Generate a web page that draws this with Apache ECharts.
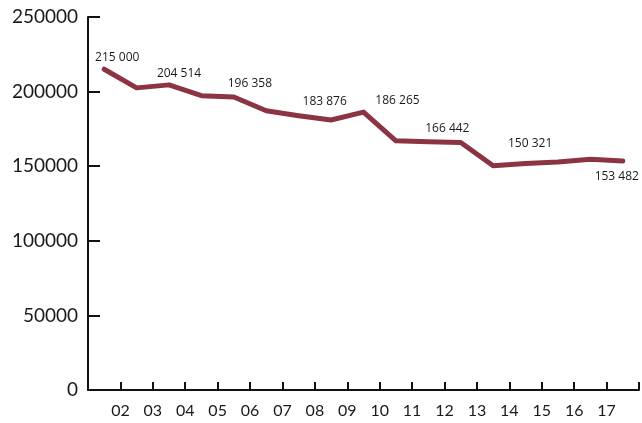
<!DOCTYPE html>
<html>
<head>
<meta charset="utf-8">
<script src="https://cdn.jsdelivr.net/npm/echarts@6/dist/echarts.min.js"></script>
<style>
  html, body { margin: 0; padding: 0; background: #fff; }
  #chart { width: 642px; height: 423px; }
</style>
</head>
<body>
<div id="chart"></div>
<script>
// tick labels on the x axis (one per band boundary, first and last empty)
const xTickLabels = ['', '02', '03', '04', '05', '06', '07', '08', '09', '10', '11', '12', '13', '14', '15', '16', '17', ''];
// one value per band
const values = [215000, 202500, 204514, 197300, 196358, 187200, 183876, 181000, 186265,
                167000, 166442, 165900, 150321, 151800, 152800, 154700, 153482];
// points that carry a value label
const labelled = [0, 2, 4, 6, 8, 10, 12, 16];
const yTicks = [0, 50000, 100000, 150000, 200000, 250000];

window.onload = function () {
    let chart = echarts.init(document.getElementById('chart'));

    // label placement (style, not data)
    let labelOffsets = {
        0: [13, -12], 2: [10, -11], 4: [16, -13], 6: [26, -14],
        8: [34, -12], 10: [19, -13], 12: [37, -22], 16: [-6, 16]
    };

    let fmt = v => String(v).replace(/\B(?=(\d{3})+(?!\d))/g, ' ');

    let seriesData = values.map((v, i) => {
        let item = { value: [i + 0.5, v] };
        if (labelled.indexOf(i) >= 0) {
            item.label = {
                show: true,
                position: 'inside',
                offset: labelOffsets[i],
                formatter: fmt(v),
                fontFamily: 'Open Sans',
                fontSize: 12,
                color: '#1a1a1a'
            };
        }
        return item;
    });

    let option = {
        animation: false,
        grid: { left: 88, right: 3, top: 17, bottom: 33 },
        xAxis: {
            type: 'value',
            min: 0,
            max: xTickLabels.length - 1,
            interval: 1,
            axisLine: { show: true, lineStyle: { color: '#111', width: 2 } },
            axisTick: { show: true, inside: true, length: 8, lineStyle: { color: '#111', width: 2 } },
            splitLine: { show: false },
            axisLabel: {
                margin: 13,
                fontFamily: 'Lato',
                fontSize: 16,
                color: '#1a1a1a',
                formatter: v => xTickLabels[Math.round(v)] || ''
            }
        },
        yAxis: {
            type: 'value',
            min: yTicks[0],
            max: yTicks[yTicks.length - 1],
            interval: yTicks[1] - yTicks[0],
            axisLine: { show: true, lineStyle: { color: '#111', width: 2 } },
            axisTick: { show: true, inside: true, length: 12, lineStyle: { color: '#111', width: 2 } },
            splitLine: { show: false },
            axisLabel: {
                margin: 10,
                fontFamily: 'Lato',
                fontSize: 19,
                color: '#1a1a1a',
                formatter: v => String(v)
            }
        },
        series: [
            {
                type: 'line',
                data: seriesData,
                symbol: 'circle',
                symbolSize: 1,
                showSymbol: true,
                itemStyle: { color: '#8c3443' },
                lineStyle: { color: '#8c3443', width: 5, cap: 'round', join: 'round' },
                label: { show: false }
            }
        ]
    };
    chart.setOption(option);
};
</script>
</body>
</html>
